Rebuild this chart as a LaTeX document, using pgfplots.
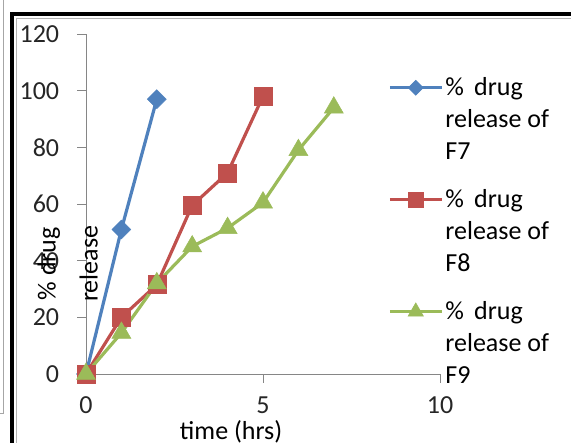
\documentclass[border=0pt]{standalone}
\usepackage{pgfplots}
\pgfplotsset{compat=1.18}
\usepackage{fontspec}
\setmainfont{Carlito}
\definecolor{xblue}{HTML}{4F81BD}
\definecolor{xred}{HTML}{C0504D}
\definecolor{xgreen}{HTML}{9BBB59}
\definecolor{axgray}{HTML}{868686}
\begin{document}
\fontsize{26}{32}\selectfont
\begin{tikzpicture}[x=1pt,y=1pt]
\path[use as bounding box] (0,0) rectangle (571,443);
\clip (0,0) rectangle (571,443);
\draw[gray!70, line width=0.8pt] (3,443) -- (3,30) -- (0,30);
\draw[black, line width=4pt] (12,0) -- (12,429) -- (571,429);
\draw[gray!60, line width=0.8pt] (16.5,0) -- (16.5,425) -- (571,425);
\begin{axis}[
  at={(86pt,69pt)}, anchor=south west, scale only axis,
  width=354pt, height=340pt,
  xmin=0, xmax=10, ymin=0, ymax=120, clip=false,
  axis lines*=left,
  axis line style={axgray, line width=0.9pt, -},
  xtick={0,5,10}, ytick={0,20,...,120},
  tick align=outside, major tick length=9pt,
  tick style={axgray, line width=0.9pt},
  /pgf/number format/assume math mode=true,
  ticklabel style={font=\fontsize{26}{32}\selectfont, text=black!85},
  xticklabel style={yshift=-5pt},
  yticklabel style={xshift=-9pt},
  xlabel={time (hrs)},
  xlabel style={at={(axis description cs:0.41,0)}, anchor=base, yshift=-66pt, font=\fontsize{26}{32}\selectfont},
  ylabel={\% drug\\[10pt]release},
  ylabel style={at={(axis description cs:-0.052,0.324)}, anchor=center, align=center, font=\fontsize{26}{32}\selectfont},
  legend style={at={(axis description cs:0.853,0.878)}, anchor=north west,
    draw=none, fill=none, inner sep=0pt, font=\fontsize{26}{32}\selectfont,
    cells={align=left, anchor=base west}, row sep=22pt},
  legend image code/.code={%
    \draw[mark repeat=2, mark phase=2, every mark/.append style={scale=0.8}]
      plot coordinates {(0pt,72pt) (26pt,72pt) (52pt,72pt)};},
]
\addplot[xblue, line width=3.2pt, mark=square*, mark size=6.7pt,
  mark options={solid, fill=xblue, line width=0.5pt, rotate=45}]
  coordinates {(0,0) (1,51) (2,97)};
\addlegendentry{\% \,drug\\release of\\F7}
\addplot[xred, line width=3.2pt, mark=square*, mark size=9pt,
  mark options={solid, fill=xred, line width=0.5pt}]
  coordinates {(0,0) (1,20) (2,31.5) (3,59.5) (4,71) (5,98)};
\addlegendentry{\% \,drug\\release of\\F8}
\addplot[xgreen, line width=3.2pt, mark=triangle*, mark size=11pt,
  mark options={solid, fill=xgreen, line width=0.5pt}]
  coordinates {(0,0) (1,14.5) (2,32) (3,45) (4,51.5) (5,60.5) (6,79) (7,94)};
\addlegendentry{\% \,drug\\release of\\F9}
\end{axis}
\end{tikzpicture}
\end{document}
